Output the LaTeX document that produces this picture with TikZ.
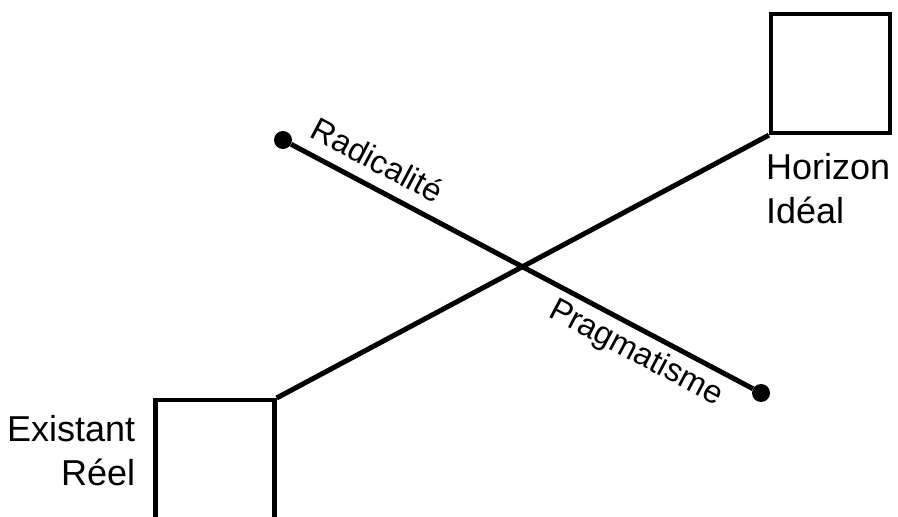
\documentclass[tikz,border=0pt]{standalone}
\usepackage{fontspec}
\setmainfont{Liberation Sans}
\usetikzlibrary{positioning, calc}
\tikzset{
    frame/.style={draw=black, line width=4.3pt, minimum width=119pt, minimum height=119pt, inner sep=0pt},
    dot/.style={circle, fill=black, minimum size=18pt, inner sep=0pt},
    link/.style={line width=5pt, draw=black},
    lbl/.style={font=\fontsize{36}{44}\selectfont, inner sep=0pt},
    tilted/.style={font=\fontsize{32.5}{40}\selectfont, inner sep=0pt, sloped}
}

\begin{document}
\begin{tikzpicture}[x=1pt, y=1pt]
    \useasboundingbox (0,0) rectangle (898,517);

    % --- BOXES ---
    \node[frame] (ideal) at (830.5,443.5) {};
    \node[frame, minimum height=150pt, anchor=north] (reel) at (215,119) {};

    % --- BOX LABELS ---
    \node[lbl, align=left, anchor=north west] (idealTxt) at ([xshift=-3pt, yshift=-18pt]ideal.south west) {Horizon\\Idéal};
    \node[lbl, align=right, anchor=north east] (reelTxt) at ([xshift=-18pt, yshift=-17pt]reel.north west) {Existant\\Réel};

    % --- AXES ---
    \draw[link] (reel.north east) -- (ideal.south west);
    \node[dot] (radical) at (283,377) {};
    \node[dot] (pragma) at (761,124) {};
    \draw[link] (radical) -- node[tilted, above=12pt, pos=0.16] {Radicalité}
        node[tilted, below=6pt, pos=0.77] {Pragmatisme} (pragma);

\end{tikzpicture}
\end{document}
